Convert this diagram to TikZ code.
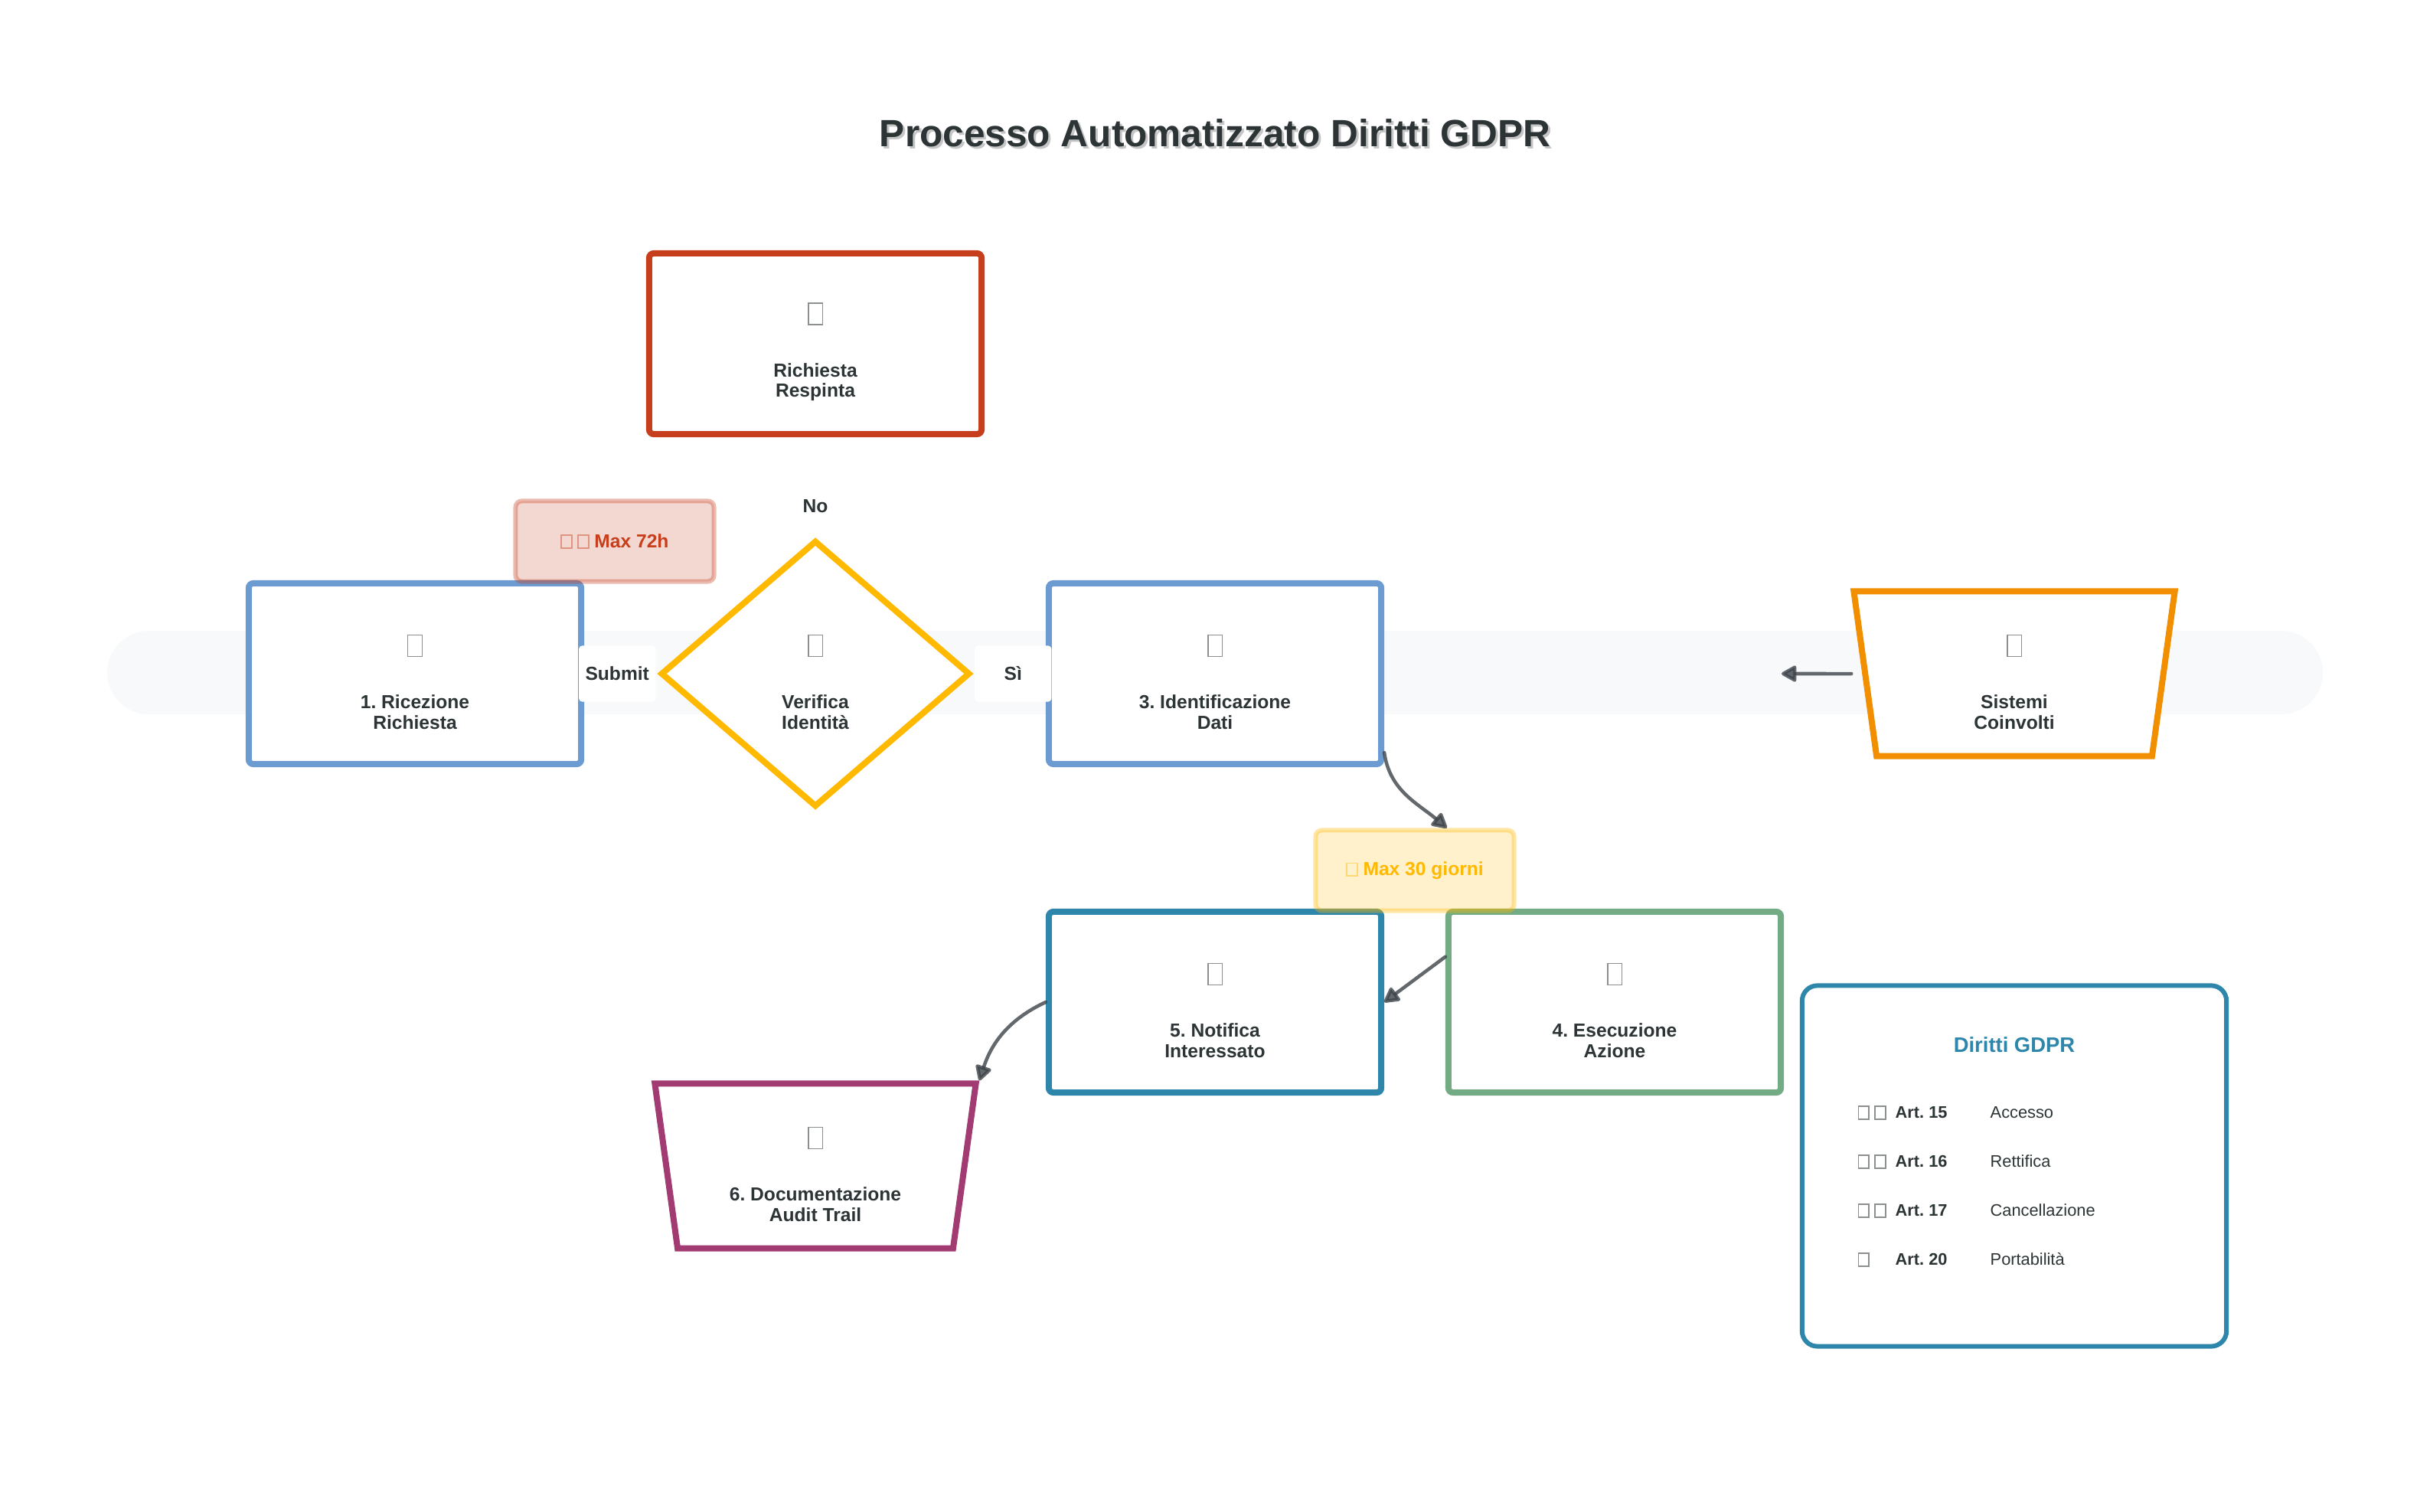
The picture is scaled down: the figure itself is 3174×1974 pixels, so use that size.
\documentclass[tikz,border=0pt]{standalone}
\usepackage{fontspec}
\setmainfont{Liberation Sans}
\usetikzlibrary{shapes.geometric,arrows.meta}
\frenchspacing

\definecolor{textdark}{HTML}{2D3436}
\definecolor{lanegray}{HTML}{F8F9FA}
\definecolor{stepblue}{HTML}{6C9BD2}
\definecolor{checkamber}{HTML}{FFB900}
\definecolor{rejectred}{HTML}{C73E1D}
\definecolor{systemorange}{HTML}{F18F01}
\definecolor{notifyteal}{HTML}{2E86AB}
\definecolor{actiongreen}{HTML}{73AB84}
\definecolor{auditmagenta}{HTML}{A23B72}
\definecolor{arrowgray}{HTML}{3C4349}

% empty glyph boxes, as the icons are printed
\newcommand\tofu[2]{{\color{.!55!white}\setlength\fboxsep{0pt}\setlength\fboxrule{0.5pt}\fbox{\rule{0pt}{#2}\hspace{#1}}}}
\newcommand\icon{\rule{0pt}{0.49cm}\tofu{0.17cm}{0.26cm}\\[0.43cm]}
\newcommand\stepfont{\fontsize{7pt}{7.5pt}\selectfont\bfseries}
\newcommand\titlefont{\fontsize{14.1pt}{17pt}\selectfont\bfseries}
\newcommand\rowfont{\fontsize{6.2pt}{7pt}\selectfont}

\begin{document}
\begin{tikzpicture}[x=0.01cm, y=0.01cm,
  stepbox/.style={rectangle, rounded corners=0.06cm, line width=0.08cm, fill=white,
    minimum width=4.34cm, minimum height=2.36cm, align=center, text=textdark, font=\stepfont},
  checkbox/.style={diamond, line width=0.08cm, fill=white, minimum width=4.04cm,
    minimum height=3.48cm, align=center, text=textdark, font=\stepfont},
  storebox/.style={trapezium, trapezium left angle=100, trapezium right angle=100,
    trapezium stretches body=true, line width=0.08cm, fill=white, minimum width=4.19cm,
    minimum height=2.15cm, align=center, text=textdark, font=\stepfont},
  notebox/.style={rectangle, rounded corners=0.08cm, line width=0.06cm,
    minimum width=2.59cm, minimum height=1.05cm, fill opacity=0.2, draw opacity=0.35,
    text opacity=1, font=\stepfont},
  edgelabel/.style={fill=white, rounded corners=0.04cm, inner sep=0pt, minimum width=1cm,
    minimum height=0.73cm, text=textdark, font=\stepfont},
  flow/.style={draw=arrowgray, line width=0.045cm, line cap=round, draw opacity=0.8,
    fill opacity=0.8, -{Triangle[length=2.2mm, width=2.3mm, fill=arrowgray, round]}},
  rowtext/.style={anchor=west, inner sep=0pt, text height=0.158cm, text depth=0cm,
    text=textdark, font=\rowfont}]

  \useasboundingbox (0,0) rectangle (3174,1974);
  \fill [white] (0,0) rectangle (3174,1974);

  % title
  \node [text=gray!45, font=\titlefont] (titleshadow) at (1590,1797) {Processo Automatizzato Diritti GDPR};
  \node [text=textdark, font=\titlefont] (title) at (1587,1800) {Processo Automatizzato Diritti GDPR};

  % lane
  \fill [lanegray, rounded corners=0.545cm] (140,1041) rectangle (3034,1150);

  % steps
  \node [stepbox, draw=stepblue] (ricezione) at (542,1094) {\icon 1. Ricezione\\Richiesta};
  \node [checkbox, draw=checkamber] (verifica) at (1065,1094) {\icon Verifica\\Identità};
  \node [stepbox, draw=stepblue] (identificazione) at (1587,1094) {\icon 3. Identificazione\\Dati};
  \node [storebox, draw=systemorange] (sistemi) at (2631,1094) {\icon Sistemi\\Coinvolti};
  \node [stepbox, draw=rejectred] (respinta) at (1065,1525) {\icon Richiesta\\Respinta};
  \node [stepbox, draw=notifyteal] (notifica) at (1587,665) {\icon 5. Notifica\\Interessato};
  \node [stepbox, draw=actiongreen] (esecuzione) at (2109,665) {\icon 4. Esecuzione\\Azione};
  \node [storebox, draw=auditmagenta] (documentazione) at (1065,451) {\icon 6. Documentazione\\Audit Trail};

  % deadlines
  \node [notebox, fill=rejectred, draw=rejectred, text=rejectred] (ore72) at (803,1267)
    {\tofu{0.12cm}{0.15cm}\hspace{0.06cm}\tofu{0.12cm}{0.15cm} Max 72h};
  \node [notebox, fill=checkamber, draw=checkamber, text=checkamber] (giorni) at (1848,837)
    {\tofu{0.12cm}{0.15cm} Max 30 giorni};

  % edge labels
  \path (ricezione.east) -- (verifica.west) node [edgelabel, pos=0.45] (submit) {Submit};
  \path (verifica.east) -- (identificazione.west) node [edgelabel, pos=0.55] (si) {Sì};
  \path (verifica.north) -- (respinta.south) node [edgelabel, pos=0.31] (no) {No};

  % connectors
  \coordinate (sistemiout) at (2327,1094);
  \draw [flow, shorten <=0.14cm] (sistemi.west) -- (sistemiout);
  \draw [flow] (identificazione.-25) to [out=-82, in=140] (giorni.53);
  \draw [flow] (esecuzione.165) -- (notifica.east);
  \draw [flow] (notifica.west) to [out=205, in=72] (documentazione.top right corner);

  % rights panel
  \node [rectangle, rounded corners=0.2cm, draw=notifyteal, line width=0.06cm, fill=white,
    minimum width=5.54cm, minimum height=4.71cm] (diritti) at (2631,451) {};
  \node [text=notifyteal, font=\fontsize{7.8pt}{9pt}\selectfont\bfseries] (dirittititle) at (2631,609) {Diritti GDPR};

  \node [rowtext] (icon15) at (2426,521) {\tofu{0.12cm}{0.15cm}\hspace{0.06cm}\tofu{0.12cm}{0.15cm}};
  \node [rowtext, font=\rowfont\bfseries] (art15) at (2475,521) {Art. 15};
  \node [rowtext] (accesso) at (2599,521) {Accesso};

  \node [rowtext] (icon16) at (2426,457) {\tofu{0.12cm}{0.15cm}\hspace{0.06cm}\tofu{0.12cm}{0.15cm}};
  \node [rowtext, font=\rowfont\bfseries] (art16) at (2475,457) {Art. 16};
  \node [rowtext] (rettifica) at (2599,457) {Rettifica};

  \node [rowtext] (icon17) at (2426,393) {\tofu{0.12cm}{0.15cm}\hspace{0.06cm}\tofu{0.12cm}{0.15cm}};
  \node [rowtext, font=\rowfont\bfseries] (art17) at (2475,393) {Art. 17};
  \node [rowtext] (cancellazione) at (2599,393) {Cancellazione};

  \node [rowtext] (icon20) at (2426,329) {\tofu{0.12cm}{0.15cm}};
  \node [rowtext, font=\rowfont\bfseries] (art20) at (2475,329) {Art. 20};
  \node [rowtext] (portabilita) at (2599,329) {Portabilità};
\end{tikzpicture}
\end{document}
